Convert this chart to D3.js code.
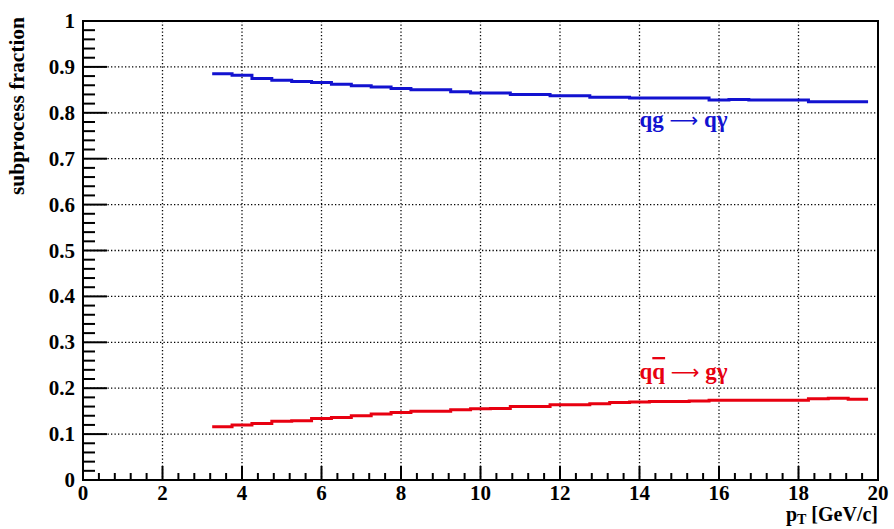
<!DOCTYPE html>
<html><head><meta charset="utf-8">
<script src="https://cdn.jsdelivr.net/npm/d3@7"></script>
<style>body{margin:0;background:#fff}svg{display:block}</style>
</head><body>
<svg id="c" width="894" height="529"></svg>
<script>
// bin lower edges (pT, GeV/c) and upper end
const binEdges = [3.25,3.75,4.25,4.75,5.25,5.75,6.25,6.75,7.25,7.75,8.25,8.75,9.25,9.75,10.25,10.75,11.25,11.75,12.25,12.75,13.25,13.75,14.25,14.75,15.25,15.75,16.25,16.75,17.25,17.75,18.25,18.75,19.25,19.75];
const qgValues  = [0.885,0.882,0.875,0.871,0.868,0.866,0.862,0.859,0.856,0.853,0.850,0.850,0.846,0.843,0.843,0.840,0.840,0.837,0.837,0.834,0.834,0.832,0.832,0.832,0.832,0.828,0.829,0.828,0.828,0.828,0.824,0.824,0.824];
const qqValues  = [0.116,0.120,0.123,0.128,0.129,0.134,0.136,0.140,0.144,0.147,0.150,0.150,0.153,0.155,0.156,0.160,0.160,0.164,0.164,0.166,0.169,0.170,0.171,0.171,0.172,0.174,0.174,0.174,0.174,0.174,0.177,0.178,0.176];
const xTicks = [0,2,4,6,8,10,12,14,16,18,20];
const yTicks = [0,0.1,0.2,0.3,0.4,0.5,0.6,0.7,0.8,0.9,1];
const yTickLabels = ["0","0.1","0.2","0.3","0.4","0.5","0.6","0.7","0.8","0.9","1"];

const svg = d3.select("#c");
const L = 83, R = 878, T = 21, B = 480;
const x = d3.scaleLinear().domain([0,20]).range([L,R]);
const y = d3.scaleLinear().domain([0,1]).range([B,T]);
const serif = "'Liberation Serif','DejaVu Serif',serif";
const arrowFont = "'DejaVu Sans',sans-serif";

// grid
const grid = svg.append("g").attr("stroke","#000").attr("stroke-width",1.3).attr("stroke-dasharray","1.3,2.2");
grid.selectAll(".gx").data(xTicks.slice(1,-1)).join("line")
  .attr("x1",d=>x(d)).attr("x2",d=>x(d)).attr("y1",T).attr("y2",B);
grid.selectAll(".gy").data(yTicks.slice(1,-1)).join("line")
  .attr("y1",d=>y(d)).attr("y2",d=>y(d)).attr("x1",L).attr("x2",R);

// ticks
const tk = svg.append("g").attr("stroke","#000").attr("stroke-width",2);
const xMinor = d3.range(0,20.001,0.4);
tk.selectAll(".xm").data(xMinor).join("line")
  .attr("x1",d=>x(d)).attr("x2",d=>x(d)).attr("y1",B).attr("y2",d=>Math.abs(d/2-Math.round(d/2))<1e-6?B-14:B-7);
const yMinor = d3.range(0,1.0001,0.02);
tk.selectAll(".ym").data(yMinor).join("line")
  .attr("y1",d=>y(d)).attr("y2",d=>y(d)).attr("x1",L).attr("x2",d=>Math.abs(d*10-Math.round(d*10))<1e-6?L+24:L+12);

// frame
svg.append("rect").attr("x",L).attr("y",T).attr("width",R-L).attr("height",B-T)
  .attr("fill","none").attr("stroke","#000").attr("stroke-width",2);

// tick labels
svg.append("g").selectAll("text").data(xTicks).join("text")
  .attr("x",d=>x(d)).attr("y",B+20).attr("text-anchor","middle")
  .attr("font-family",serif).attr("font-weight","bold").attr("font-size",21).text(d=>d);
svg.append("g").selectAll("text").data(yTicks).join("text")
  .attr("x",L-8).attr("y",d=>y(d)+7).attr("text-anchor","end")
  .attr("font-family",serif).attr("font-weight","bold").attr("font-size",21).text((d,i)=>yTickLabels[i]);

// axis titles
svg.append("text").attr("transform","translate(24,106) rotate(-90)").attr("text-anchor","middle")
  .attr("font-family",serif).attr("font-weight","bold").attr("font-size",21.5).text("subprocess fraction");
const xt = svg.append("text").attr("x",R).attr("y",521).attr("text-anchor","end")
  .attr("font-family",serif).attr("font-weight","bold").attr("font-size",20);
xt.append("tspan").text("p");
xt.append("tspan").attr("font-size",14).attr("dy",3).text("T");
xt.append("tspan").attr("dy",-3).text(" [GeV/c]");

// histogram lines
function steps(vals){
  const pts = [];
  vals.forEach((v,i)=>{ pts.push([binEdges[i],v]); pts.push([binEdges[i+1],v]); });
  return pts;
}
const line = d3.line().x(d=>x(d[0])).y(d=>y(d[1]));
svg.append("path").attr("d",line(steps(qgValues))).attr("fill","none").attr("stroke","#1212d0").attr("stroke-width",3);
svg.append("path").attr("d",line(steps(qqValues))).attr("fill","none").attr("stroke","#e80010").attr("stroke-width",3);

// labels
const bl = svg.append("text").attr("x",x(14)).attr("y",y(0.769)).attr("font-family",serif).attr("font-weight","bold")
  .attr("font-size",23).attr("fill","#1212d0");
bl.append("tspan").text("qg ");
bl.append("tspan").attr("font-family",arrowFont).attr("font-weight","normal").attr("font-size",20).text("\u27f6");
bl.append("tspan").text(" q\u03b3");
const rl = svg.append("text").attr("x",x(14)).attr("y",y(0.22)).attr("font-family",serif).attr("font-weight","bold")
  .attr("font-size",23).attr("fill","#e80010");
rl.append("tspan").text("q");
rl.append("tspan").attr("text-decoration","overline").text("q");
rl.append("tspan").text(" ");
rl.append("tspan").attr("font-family",arrowFont).attr("font-weight","normal").attr("font-size",20).text("\u27f6");
rl.append("tspan").text(" g\u03b3");
</script>
</body></html>
